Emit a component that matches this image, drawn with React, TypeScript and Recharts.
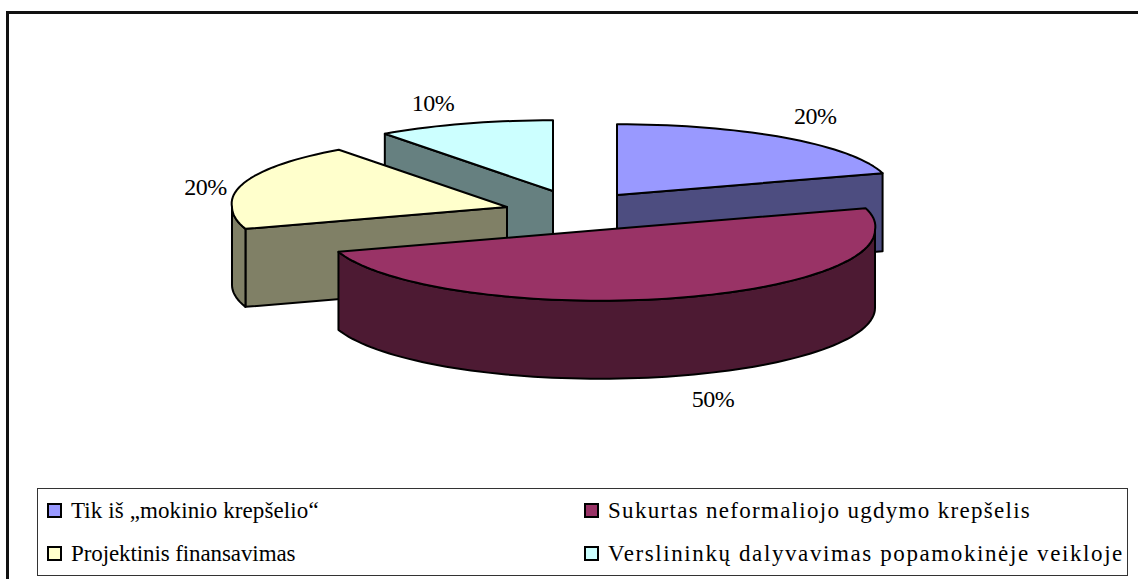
import { PieChart, Pie, Legend } from "recharts";

const names = [
  "Tik iš „mokinio krepšelio“",
  "Sukurtas neformaliojo ugdymo krepšelis",
  "Projektinis finansavimas",
  "Verslininkų dalyvavimas popamokinėje veikloje",
];
const values = [20, 50, 20, 10];

const topColors = ["#9999ff", "#993366", "#ffffcc", "#ccffff"];
const wallColors = ["#4d4d80", "#4d1a33", "#808066", "#668080"];
// back-to-front, so the big slice ends up over its neighbours
const paintOrder = [3, 0, 2, 1];

const pieCx = 580;
const pieCy = 205;
const radius = 275;
const squash = 71 / 276;
const depth = 78;
// the back half of the pie is drawn a little wider, as the 3D view does
const backStretch = 0.05;
// how far each slice is pulled out of the pie
const explodeX = [37, 20, -73, -27];
const explodeY = [-10, 25, 2, -14];
const labelNudgeX = [30, 28, -36, -31];
const labelNudgeY = [-22, 102, 2, -21];
const legendSpacing = [0.1, 1.3, -0.1, 1.6];

const data = names.map((name, i) => ({ name, value: values[i], slice: i }));

const toRad = (deg: number) => (deg * Math.PI) / 180;

function point(cx: number, cy: number, r: number, angle: number) {
  const s = Math.sin(toRad(angle));
  const stretch = 1 + backStretch * Math.max(s, 0);
  return { x: cx + r * stretch * Math.cos(toRad(angle)), y: cy - r * squash * s };
}

// rim as short straight pieces, going from one angle to the other
function rim(cx: number, cy: number, r: number, from: number, to: number) {
  const steps = Math.max(2, Math.ceil(Math.abs(to - from) / 2));
  const parts: string[] = [];
  for (let i = 0; i <= steps; i++) {
    const p = point(cx, cy, r, from + ((to - from) * i) / steps);
    parts.push(`L ${p.x} ${p.y}`);
  }
  return parts.join(" ");
}

function sliceShape(layer: number) {
  return (props: any) => {
    const { cx, cy, outerRadius, startAngle, endAngle, payload } = props;
    const slice = payload?.slice ?? props.slice;
    if (slice !== layer) return <g />;
    const x0 = cx + explodeX[slice];
    const y0 = cy + explodeY[slice];
    const a = point(x0, y0, outerRadius, startAngle);
    const b = point(x0, y0, outerRadius, endAngle);

    // clockwise-from-top angles, to tell which walls face the viewer
    const t0 = 90 - startAngle;
    const t1 = 90 - endAngle;
    const walls: string[] = [];

    if (Math.sin(toRad(t0)) < -0.001) {
      walls.push(`M ${x0} ${y0} L ${a.x} ${a.y} L ${a.x} ${a.y + depth} L ${x0} ${y0 + depth} Z`);
    }
    if (Math.sin(toRad(t1)) > 0.001) {
      walls.push(`M ${x0} ${y0} L ${b.x} ${b.y} L ${b.x} ${b.y + depth} L ${x0} ${y0 + depth} Z`);
    }
    const from = Math.max(t0, 90);
    const to = Math.min(t1, 270);
    if (to > from) {
      const p = point(x0, y0, outerRadius, 90 - from);
      walls.push(
        `M ${p.x} ${p.y} ${rim(x0, y0, outerRadius, 90 - from, 90 - to)} ` +
          `${rim(x0, y0 + depth, outerRadius, 90 - to, 90 - from)} Z`
      );
    }

    return (
      <g>
        {walls.map((d, i) => (
          <path key={i} d={d} fill={wallColors[slice]} stroke="#000" strokeWidth={2} strokeLinejoin="round" />
        ))}
        <path
          d={`M ${x0} ${y0} ${rim(x0, y0, outerRadius, startAngle, endAngle)} Z`}
          fill={topColors[slice]}
          stroke="#000"
          strokeWidth={2}
          strokeLinejoin="round"
        />
      </g>
    );
  };
}

function sliceLabel(layer: number) {
  return (props: any) => {
    const { cx, cy, outerRadius, midAngle, index, value } = props;
    if (index !== layer) return <g />;
    const p = point(cx + explodeX[index], cy + explodeY[index], outerRadius, midAngle);
    return (
      <text
        x={p.x + labelNudgeX[index]}
        y={p.y + labelNudgeY[index]}
        textAnchor="middle"
        dominantBaseline="central"
        fill="#000"
        fontSize={24}
        letterSpacing={-0.5}
        fontFamily="'Liberation Serif', serif"
      >
        {value}%
      </text>
    );
  };
}

function BoxLegend() {
  return (
    <div
      style={{
        boxSizing: "border-box",
        width: 1091,
        height: 88,
        border: "1px solid #333",
        background: "#fff",
        display: "grid",
        gridTemplateColumns: "537px 1fr",
        gridTemplateRows: "43px 43px",
        alignItems: "center",
        fontFamily: "'Liberation Serif', serif",
        fontSize: 23,
        color: "#000",
      }}
    >
      {names.map((name, i) => (
        <div
          key={name}
          style={{ display: "flex", alignItems: "center", paddingLeft: 9, whiteSpace: "nowrap", letterSpacing: legendSpacing[i] }}
        >
          <span
            style={{
              display: "inline-block",
              boxSizing: "border-box",
              width: 15,
              height: 15,
              marginRight: 9,
              background: topColors[i],
              border: "2px solid #000",
            }}
          />
          {name}
        </div>
      ))}
    </div>
  );
}

export default function App() {
  return (
    <div style={{ position: "absolute", left: 0, top: 0, width: 1138, height: 579, overflow: "hidden", background: "#fff" }}>
      <div style={{ position: "absolute", left: 6, top: 11, right: 0, bottom: 0, borderLeft: "3px solid #111", borderTop: "3px solid #111" }} />
      <PieChart width={1138} height={579} margin={{ top: 0, right: 0, bottom: 0, left: 0 }} style={{ position: "absolute", left: 0, top: 0 }}>
        {paintOrder.map((layer) => (
          <Pie
            key={layer}
            data={data}
            dataKey="value"
            nameKey="name"
            cx={pieCx}
            cy={pieCy}
            outerRadius={radius}
            startAngle={90}
            endAngle={-270}
            stroke="none"
            labelLine={false}
            label={sliceLabel(layer)}
            shape={sliceShape(layer)}
            isAnimationActive={false}
          />
        ))}
        <Legend
          content={<BoxLegend />}
          wrapperStyle={{ position: "absolute", left: 37, top: 488, width: 1091, height: 88, bottom: "auto" }}
        />
      </PieChart>
    </div>
  );
}
